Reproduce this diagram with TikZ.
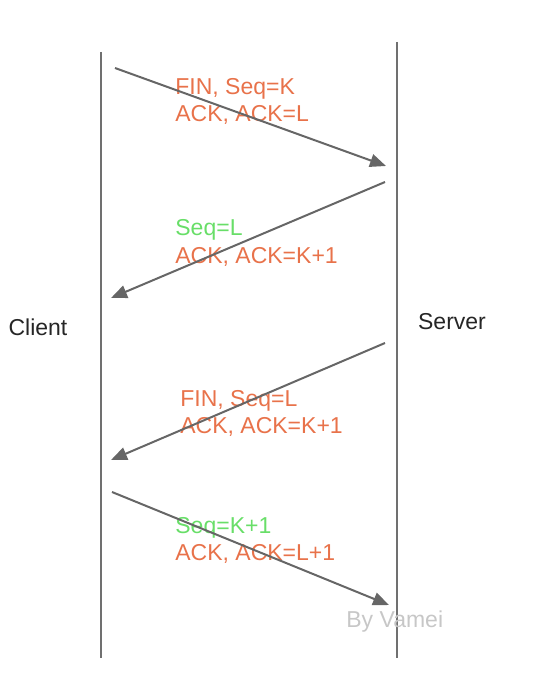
\documentclass[tikz,border=0pt]{standalone}
\usepackage{fontspec}
\setmainfont{Liberation Sans}
\usepackage{xcolor}
\usepackage{tikz}
\usetikzlibrary{arrows.meta,positioning}
\definecolor{msgorange}{RGB}{232,114,74}
\definecolor{msggreen}{RGB}{104,222,104}
\definecolor{linegray}{RGB}{112,112,112}

\begin{document}
\begin{tikzpicture}[x=0.5pt,y=-0.5pt, every node/.style={font=\fontsize{11.5}{13.5}\selectfont,align=left,inner sep=0pt}]
\useasboundingbox (0,0) rectangle (545,700);
\coordinate (c0) at (101,52);\coordinate (c1) at (101,658);
\coordinate (s0) at (397,42);\coordinate (s1) at (397,658);
\draw[linegray,line width=1.2pt] (c0)--(c1);\draw[linegray,line width=1.2pt] (s0)--(s1);
\node[text=black!85] (client) at (38,327) {Client};
\node[text=black!85] (server) at (452,322) {Server};
\node[anchor=base west,text=msgorange] (m1) at (175,122) {FIN, Seq=K\\ACK, ACK=L};
\node[anchor=base west,text=msgorange] (m2) at (175,263) {\textcolor{msggreen}{Seq=L}\\ACK, ACK=K+1};
\node[anchor=base west,text=msgorange] (m3) at (180,433) {FIN, Seq=L\\ACK, ACK=K+1};
\node[anchor=base west,text=msgorange] (m4) at (175,560) {\textcolor{msggreen}{Seq=K+1}\\ACK, ACK=L+1};
\node[anchor=base west,text=black!22] (sign) at (346,627) {By Vamei};
\coordinate (a1) at (115,68);\coordinate (b1) at (386,166);
\coordinate (a2) at (385,182);\coordinate (b2) at (111,298);
\coordinate (a3) at (385,343);\coordinate (b3) at (111,460);
\coordinate (a4) at (112,492);\coordinate (b4) at (389,605);
\draw[-{Triangle[length=8pt,width=6.5pt]},black!60,line width=1pt] (a1)--(b1);\draw[-{Triangle[length=8pt,width=6.5pt]},black!60,line width=1pt] (a2)--(b2);
\draw[-{Triangle[length=8pt,width=6.5pt]},black!60,line width=1pt] (a3)--(b3);\draw[-{Triangle[length=8pt,width=6.5pt]},black!60,line width=1pt] (a4)--(b4);
\end{tikzpicture}
\end{document}
